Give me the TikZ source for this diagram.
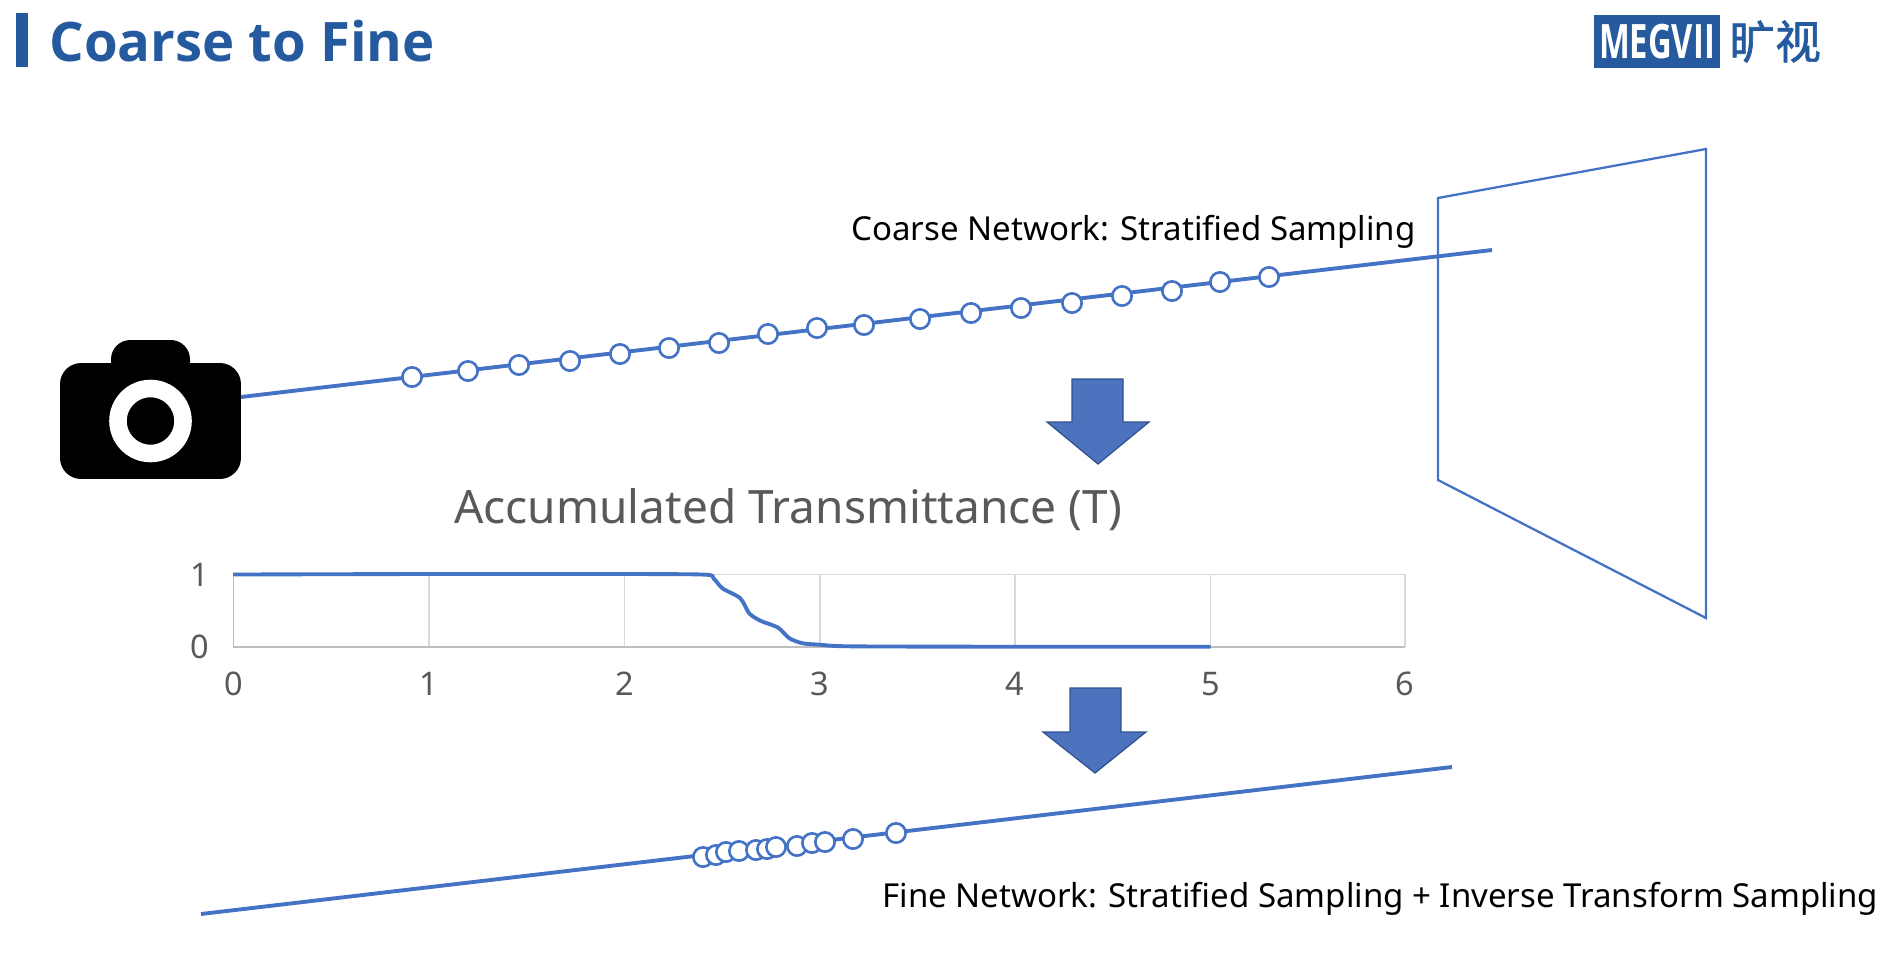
\documentclass[tikz,border=0pt]{standalone}
\usepackage{fontspec}
\setmainfont{Noto Sans}
\newfontfamily\cjkfont[FakeBold=1.5]{Noto Sans CJK SC}
\newfontfamily\headfont{Open Sans}
\usepackage{tikz}
\usetikzlibrary{positioning}
\definecolor{megblue}{HTML}{255A9F}
\definecolor{rayblue}{HTML}{4472C4}
\definecolor{arrowfill}{HTML}{4E73BE}
\definecolor{arrowedge}{HTML}{2F528F}
\definecolor{ticktext}{HTML}{595959}
\definecolor{gridgray}{HTML}{D9D9D9}
\definecolor{axisgray}{HTML}{BFBFBF}

\begin{document}
\begin{tikzpicture}[x=0.02cm, y=-0.02cm,
        ray/.style={draw=rayblue, line width=2.2pt},
        sample/.style={circle, draw=rayblue, fill=white, line width=1.5pt, inner sep=0pt, minimum size=11pt},
        caption/.style={anchor=base west, inner sep=0pt, font=\fontsize{18.8}{22}\selectfont},
        tick/.style={text=ticktext, inner sep=0pt, font=\fontsize{18.5}{20}\selectfont},
        downarrow/.style={fill=arrowfill, draw=arrowedge, line width=0.7pt},
        gridline/.style={draw=gridgray, line width=0.9pt},
        axisline/.style={draw=axisgray, line width=0.9pt}]

        \useasboundingbox (0,0) rectangle (1900,968);

        % header
        \fill[megblue] (16,13) rectangle (28,67);
        \node[anchor=base west, inner sep=0pt, text=megblue, font=\headfont\fontsize{31}{34}\selectfont\bfseries] (title) at (49,61) {Coarse to Fine};
        \node[fill=megblue, text=white, inner sep=0pt, minimum width=71.7pt, minimum height=30.2pt, font=\headfont\fontsize{27}{28}\selectfont\bfseries] (logo) at (1657,41.5) {\scalebox{0.69}[1]{MEGVII}};
        \node[right=5pt of logo, inner sep=0pt, text=megblue, font=\fontsize{26}{28}\selectfont\cjkfont] (logotext) {旷视};

        % camera
        \fill[black, rounded corners=11pt] (111,385) -- (111,340) -- (190,340) -- (190,385) -- cycle;
        \node[fill=black, rounded corners=12pt, inner sep=0pt, minimum width=103pt, minimum height=66pt] (camera) at (150.5,421) {};
        \node[circle, draw=white, line width=10pt, inner sep=0pt, minimum size=37pt] (lens) at (150.5,421) {};
        \coordinate (rayfrom) at (241,397);
        \coordinate (rayto) at (1492,250);

        % coarse ray
        \draw[ray] (rayfrom) -- (rayto);
        \node[sample] (c1) at (412,377) {};
        \node[sample] (c2) at (468,371) {};
        \node[sample] (c3) at (519,365) {};
        \node[sample] (c4) at (570,361) {};
        \node[sample] (c5) at (620,354) {};
        \node[sample] (c6) at (669,348) {};
        \node[sample] (c7) at (719,343) {};
        \node[sample] (c8) at (768,334) {};
        \node[sample] (c9) at (817,328) {};
        \node[sample] (c10) at (864,325) {};
        \node[sample] (c11) at (920,319) {};
        \node[sample] (c12) at (971,313) {};
        \node[sample] (c13) at (1021,308) {};
        \node[sample] (c14) at (1072,303) {};
        \node[sample] (c15) at (1122,296) {};
        \node[sample] (c16) at (1172,291) {};
        \node[sample] (c17) at (1220,282) {};
        \node[sample] (c18) at (1269,277) {};
        \node[caption] (coarselabel) at (851,240) {Coarse Network: Stratified Sampling};

        % image plane
        \draw[draw=rayblue, line width=1.3pt] (1438,198) -- (1706,149) -- (1706,618) -- (1438,480) -- cycle;

        % block arrows
        \draw[downarrow] (1072,379) -- (1123,379) -- (1123,422) -- (1149,422) -- (1098,464) -- (1047,422) -- (1072,422) -- cycle;
        \draw[downarrow] (1070,688) -- (1121,688) -- (1121,732) -- (1146,732) -- (1095,773) -- (1043,732) -- (1070,732) -- cycle;

        % chart
        \node[anchor=base west, inner sep=0pt, text=ticktext, font=\fontsize{26.2}{28}\selectfont] (charttitle) at (454,523) {Accumulated Transmittance (T)};
        \draw[gridline] (233.6,574.3) -- (1405,574.3);
        \draw[gridline] (429,574.3) -- (429,646.7);
        \draw[gridline] (624.4,574.3) -- (624.4,646.7);
        \draw[gridline] (819.8,574.3) -- (819.8,646.7);
        \draw[gridline] (1015.2,574.3) -- (1015.2,646.7);
        \draw[gridline] (1210.6,574.3) -- (1210.6,646.7);
        \draw[gridline] (1405,574.3) -- (1405,646.7);
        \draw[axisline] (233.6,574.3) -- (233.6,646.7) -- (1405,646.7);
        \draw[ray, line join=round] plot[smooth, tension=0.45] coordinates {(233,574.5) (430,574) (620,574) (704.5,574.6) (713.5,578.3) (722.4,588.3) (740.3,598.3) (749.2,613.3) (760.4,620.7) (778.2,627.7) (789.4,638.3) (802.8,643.3) (819.7,644.7) (849.6,646.3) (1000,646.7) (1210.6,646.7)};
        \node[tick] (ylabelone) at (200,575) {1};
        \node[tick] (ylabelzero) at (200,647) {0};
        \node[tick] (xlabelzero) at (233.6,684) {0};
        \node[tick] (xlabelone) at (429,684) {1};
        \node[tick] (xlabeltwo) at (624.4,684) {2};
        \node[tick] (xlabelthree) at (819.8,684) {3};
        \node[tick] (xlabelfour) at (1015.2,684) {4};
        \node[tick] (xlabelfive) at (1210.6,684) {5};
        \node[tick] (xlabelsix) at (1405,684) {6};

        % fine ray
        \coordinate (finefrom) at (201,914);
        \coordinate (fineto) at (1452,767);
        \draw[ray] (finefrom) -- (fineto);
        \node[sample] (f1) at (703,857) {};
        \node[sample] (f2) at (716,855) {};
        \node[sample] (f3) at (726,852) {};
        \node[sample] (f4) at (739,851) {};
        \node[sample] (f5) at (756,850) {};
        \node[sample] (f6) at (767,849) {};
        \node[sample] (f7) at (776,847) {};
        \node[sample] (f8) at (797,846) {};
        \node[sample] (f9) at (812,843) {};
        \node[sample] (f10) at (825,842) {};
        \node[sample] (f11) at (853,839) {};
        \node[sample] (f12) at (896,833) {};
        \node[caption] (finelabel) at (882,907) {Fine Network: Stratified Sampling + Inverse Transform Sampling};
    \end{tikzpicture}
\end{document}
